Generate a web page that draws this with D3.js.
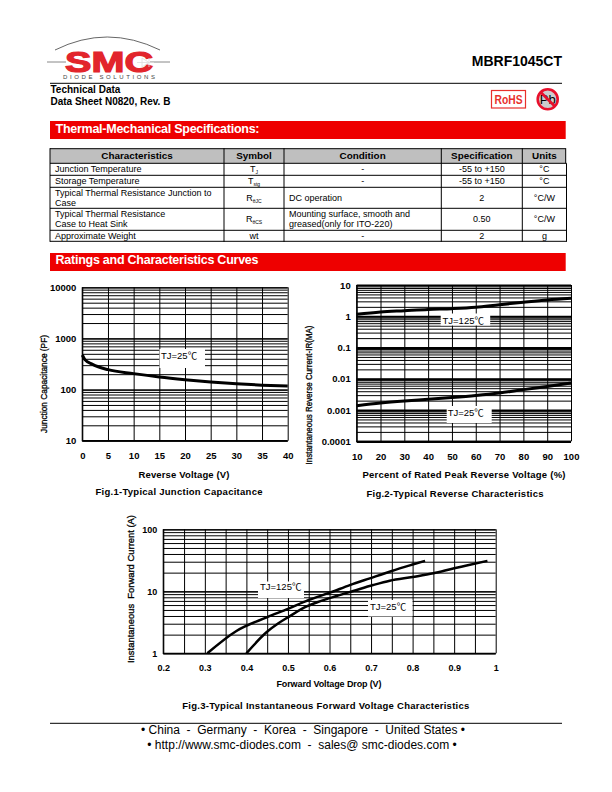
<!DOCTYPE html>
<html><head><meta charset="utf-8">
<script src="https://cdn.jsdelivr.net/npm/d3@7"></script>
<style>
html,body{margin:0;padding:0;background:#fff}
svg{display:block}
text{font-family:"Liberation Sans",Arial,"Noto Sans CJK SC",sans-serif;fill:#000;white-space:pre}
.b{font-weight:bold}
.tick text{font-family:"Liberation Sans",Arial,sans-serif;font-weight:bold;fill:#000}
</style></head><body>
<svg id="page" width="612" height="792" viewBox="0 0 612 792"></svg>
<script>
// ---- data ----
const tableHeader = ["Characteristics","Symbol","Condition","Specification","Units"];
const tableChar = [["Junction Temperature"],["Storage Temperature"],["Typical Thermal Resistance Junction to","Case"],["Typical Thermal Resistance","Case to Heat Sink"],["Approximate Weight"]];
const tableSym = [["T","J"],["T","stg"],["R","θJC"],["R","θCS"],["wt",""]];
const tableCond = [["-"],["-"],["DC operation"],["Mounting surface, smooth and","greased(only for ITO-220)"],["-"]];
const tableSpec = ["-55 to +150","-55 to +150","2","0.50","2"];
const tableUnits = ["°C","°C","°C/W","°C/W","g"];

const fig1V = [0,0.5,2,5,10,15,20,25,30,35,40];
const fig1C = [474,385,311,245,205,176,156,141,130,122,117];

const fig2Pct = [10,20,30,40,50,60,70,80,90,100];
const fig2I125 = [1.15,1.37,1.51,1.66,1.75,1.93,2.35,2.8,3.3,3.74];
const fig2I25 = [0.00138,0.00168,0.00195,0.0022,0.0025,0.0029,0.0035,0.0045,0.0057,0.0073];

const fig3V125 = [0.306,0.376,0.449,0.5,0.549,0.601,0.649,0.697,0.75,0.80,0.83];
const fig3I125 = [1,2.29,3.8,5.2,7.2,9.5,12.6,16.2,21.3,27,31];
const fig3V25 = [0.40,0.449,0.477,0.5,0.545,0.569,0.617,0.657,0.705,0.745,0.80,0.85,0.90,0.93,0.98];
const fig3I25 = [1,2.2,3.05,3.8,5.7,6.6,8.4,10.1,12.6,14.8,17,19.5,23.5,26,31];

const fig1XTicks = [0,5,10,15,20,25,30,35,40];
const fig1YTicks = [10,100,1000,10000];
const fig2XTicks = [10,20,30,40,50,60,70,80,90,100];
const fig2YTicks = [0.0001,0.001,0.01,0.1,1,10];
const fig2YLabels = ["0.0001","0.001","0.01","0.1","1","10"];
const fig3XTicks = [0.2,0.3,0.4,0.5,0.6,0.7,0.8,0.9,1];
const fig3XGrid = [0.2,0.25,0.3,0.35,0.4,0.45,0.5,0.55,0.6,0.65,0.7,0.75,0.8,0.85,0.9,0.95,1];
const fig3YTicks = [1,10,100];

// ---- helpers ----
const svg = d3.select("#page");
function txt(g,x,y,s,size,opt={}){
  const t=g.append("text").attr("x",x).attr("y",y).attr("font-size",size).text(s);
  if(opt.bold) t.attr("font-weight","bold");
  if(opt.anchor) t.attr("text-anchor",opt.anchor);
  if(opt.fill) t.style("fill",opt.fill);
  if(opt.len) t.attr("textLength",opt.len).attr("lengthAdjust",opt.adj||"spacing");
  return t;
}
function hline(x1,x2,y,w,c="#000"){svg.append("line").attr("x1",x1).attr("x2",x2).attr("y1",y).attr("y2",y).attr("stroke",c).attr("stroke-width",w);}
function vline(x,y1,y2,w,c="#000"){svg.append("line").attr("x1",x).attr("x2",x).attr("y1",y1).attr("y2",y2).attr("stroke",c).attr("stroke-width",w);}

// ---- logo ----
const logo = svg.append("g");
logo.append("path").attr("d","M55,50 Q107,24 160,50").attr("fill","none").attr("stroke","#555").attr("stroke-width",0.9);
logo.append("line").attr("x1",47).attr("x2",66).attr("y1",62).attr("y2",62).attr("stroke","#888").attr("stroke-width",1);
logo.append("line").attr("x1",150).attr("x2",170).attr("y1",62).attr("y2",62).attr("stroke","#888").attr("stroke-width",1);
txt(logo,65,71.5,"SMC",29,{bold:true,fill:"#e2252c",len:88,adj:"spacingAndGlyphs"}).style("stroke","#e2252c").style("stroke-width",1.2);
logo.append("path").attr("d","M142,58 L142,67 L149,62.5 Z M149,58 L149,67 M137,62.5 L154,62.5").attr("fill","none").attr("stroke","#ddd").attr("stroke-width",0.8);
txt(logo,63,79,"DIODE SOLUTIONS",6,{fill:"#444",len:92});

// ---- header ----
txt(svg,562,66,"MBRF1045CT",14,{bold:true,anchor:"end"});
hline(50,562,83.3,1);
txt(svg,50.5,92.5,"Technical Data",10,{bold:true});
txt(svg,50.5,104.5,"Data Sheet N0820, Rev. B",10,{bold:true});
svg.append("rect").attr("x",491.5).attr("y",90.5).attr("width",34).attr("height",17.5).attr("fill","#fff").attr("stroke","#e8302c").attr("stroke-width",1.2);
txt(svg,508.5,103.5,"RoHS",12,{bold:true,anchor:"middle",fill:"#e8302c",len:28,adj:"spacingAndGlyphs"});
svg.append("circle").attr("cx",547.7).attr("cy",99.3).attr("r",10).attr("fill","#ccc").attr("stroke","#e8102c").attr("stroke-width",2.6);
txt(svg,547.7,104,"Pb",13,{anchor:"middle"});
svg.append("line").attr("x1",540.5).attr("y1",92).attr("x2",555).attr("y2",106.5).attr("stroke","#e8102c").attr("stroke-width",2.6);

// ---- section bars ----
svg.append("rect").attr("x",50).attr("y",121).attr("width",515.7).attr("height",18).attr("fill","#ee0000");
txt(svg,55.5,132.8,"Thermal-Mechanical Specifications:",12.5,{bold:true,fill:"#fff",len:204});
svg.append("rect").attr("x",50).attr("y",253).attr("width",515.7).attr("height",18).attr("fill","#ee0000");
txt(svg,55.5,264.3,"Ratings and Characteristics Curves",12.5,{bold:true,fill:"#fff",len:203});

// ---- table ----
const colX = [50,224,284,441.3,522.3,566.5];
const rowY = [148.7,163.3,175.3,187.3,208.3,230.3,241.3];
svg.append("rect").attr("x",colX[0]).attr("y",rowY[0]).attr("width",565.7-colX[0]).attr("height",rowY[1]-rowY[0]).attr("fill","#bfbfbf");
rowY.forEach((y,i)=>hline(colX[0],i<1?565.7:colX[5],y,1));
colX.forEach((x,i)=>{ if(i<5) vline(x,rowY[0]-.5,rowY[6]+.5,1); });
vline(565.7,rowY[0]-.5,rowY[1],1);
vline(566.5,rowY[1],rowY[6]+.5,1);
tableHeader.forEach((s,i)=>txt(svg,(colX[i]+colX[i+1])/2,159.3,s,9.9,{bold:true,anchor:"middle"}));
const FS=9;
tableChar.forEach((l,r)=>{
  const two=l.length>1;
  l.forEach((s,j)=>txt(svg,55,(two?rowY[r+1]+8.7+j*10:rowY[r+1]+8.6),s,FS));
});
tableSym.forEach((s,r)=>{
  const cy=(rowY[r+1]+rowY[r+2])/2+3;
  const t=txt(svg,(colX[1]+colX[2])/2,cy,s[0],FS,{anchor:"middle"});
  if(s[1]) t.append("tspan").attr("dy",1.8).attr("font-size",5).text(s[1]);
});
tableCond.forEach((l,r)=>{
  const two=l.length>1;
  l.forEach((s,j)=>{
    if(s==="-") txt(svg,(colX[2]+colX[3])/2,rowY[r+1]+8.6,s,FS,{anchor:"middle"});
    else if(two) txt(svg,289,rowY[r+1]+8.7+j*10,s,FS);
    else txt(svg,289,(rowY[r+1]+rowY[r+2])/2+3.2,s,FS);
  });
});
tableSpec.forEach((s,r)=>txt(svg,(colX[3]+colX[4])/2,(rowY[r+1]+rowY[r+2])/2+3,s,FS,{anchor:"middle"}));
tableUnits.forEach((s,r)=>txt(svg,(colX[4]+colX[5])/2,(rowY[r+1]+rowY[r+2])/2+3,s,FS,{anchor:"middle"}));

// ---- charts ----
function minorLog(lo,hi){
  const out=[];
  for(let e=Math.round(Math.log10(lo));e<Math.round(Math.log10(hi));e++)
    for(let m=1;m<=9;m++) out.push(m*Math.pow(10,e));
  out.push(hi);
  return out;
}
function chart(o){
  const g=svg.append("g").attr("transform",`translate(${o.l},${o.t})`);
  const w=o.r-o.l,h=o.b-o.t;
  const x=d3.scaleLinear().domain(o.xd).range([0,w]);
  const y=d3.scaleLog().domain(o.yd).range([h,0]);
  g.append("g").call(d3.axisLeft(y).tickValues(minorLog(o.yd[0],o.yd[1])).tickSize(-w).tickFormat(""))
    .call(a=>{a.select(".domain").remove();a.selectAll("line").attr("stroke","#000").attr("stroke-width",o.gw||1);});
  g.append("g").call(d3.axisLeft(y).tickValues(o.yTicks).tickSize(-w).tickFormat(""))
    .call(a=>{a.select(".domain").remove();a.selectAll("line").attr("stroke","#000").attr("stroke-width",o.mw||1.3);});
  g.append("g").attr("transform",`translate(0,${h})`).call(d3.axisBottom(x).tickValues(o.xGrid).tickSize(-h).tickFormat(""))
    .call(a=>{a.select(".domain").remove();a.selectAll("line").attr("stroke","#000").attr("stroke-width",1);});
  g.append("path").attr("d",d3.line()([[0,0],[0,h],[w,h]])).attr("fill","none").attr("stroke","#000").attr("stroke-width",1.2);
  o.labels.forEach(L=>{
    g.append("rect").attr("x",L.bx-o.l).attr("y",L.by-o.t).attr("width",L.bw).attr("height",L.bh).attr("fill","#fff");
    txt(g,L.tx-o.l,L.ty-o.t,L.s,L.fs||9.5);
  });
  const ln=d3.line().x(d=>x(d[0])).y(d=>y(d[1])).curve(d3.curveMonotoneX);
  o.series.forEach(s=>{
    g.append("path").attr("d",ln(s.xs.map((v,i)=>[v,s.ys[i]]))).attr("fill","none").attr("stroke","#000").attr("stroke-width",o.sw).attr("stroke-linecap","butt");
  });
  g.append("g").attr("transform",`translate(0,${h})`)
    .call(d3.axisBottom(x).tickValues(o.xTicks).tickSize(0).tickPadding(o.xpad).tickFormat(o.xf||(d=>d)))
    .call(a=>{a.select(".domain").remove();a.selectAll("text").attr("font-size",o.tfs||9.5);});
  g.append("g")
    .call(d3.axisLeft(y).tickValues(o.yTicks).tickSize(0).tickPadding(o.ypad).tickFormat(o.yf))
    .call(a=>{a.select(".domain").remove();a.selectAll("text").attr("font-size",o.tfs||9.5);});
  txt(svg,o.xt[0],o.xt[1],o.xt[2],o.xt[3],{bold:true,anchor:"middle",len:o.xt[4]});
  txt(svg,o.cap[0],o.cap[1],o.cap[2],o.cap[3],{bold:true,anchor:"middle",len:o.cap[4]});
  const yt=txt(svg,0,0,o.yt[2],o.yt[3],{anchor:"middle",len:o.yt[4],adj:"spacingAndGlyphs",bold:o.yt[5]});
  yt.attr("transform",`translate(${o.yt[0]},${o.yt[1]}) rotate(-90)`).style("stroke","#000").style("stroke-width",o.yt[6]||0);
}

chart({l:82.3,r:287.7,t:287.3,b:440.7,xd:[0,40],yd:[10,10000],
  xGrid:fig1XTicks,xTicks:fig1XTicks,yTicks:fig1YTicks,yf:d=>d,xpad:11.5,ypad:6,sw:3,mw:1.3,
  series:[{xs:fig1V,ys:fig1C}],
  labels:[{s:"TJ=25℃",bx:159.5,by:349,bw:45.5,bh:19,tx:161,ty:359}],
  xt:[184,478,"Reverse Voltage (V)",9.5,91],cap:[179,495,"Fig.1-Typical Junction Capacitance",9.5,167],
  yt:[47,384,"Junction Capacitance (PF)",9,98,false,0.3]});

chart({l:356.7,r:571,t:285,b:441.3,xd:[10,100],yd:[0.0001,10],
  xGrid:fig2XTicks,xTicks:fig2XTicks,yTicks:fig2YTicks,yf:(d,i)=>fig2YLabels[i],xpad:12,ypad:6,sw:3,mw:2.2,
  series:[{xs:fig2Pct,ys:fig2I125},{xs:fig2Pct,ys:fig2I25}],
  labels:[{s:"TJ=125℃",bx:440.7,by:313.5,bw:49.5,bh:12,tx:442.5,ty:323.5},{s:"TJ=25℃",bx:446.7,by:406,bw:45,bh:17,tx:447.7,ty:415.5}],
  xt:[464,478,"Percent of Rated Peak Reverse Voltage (%)",9.5,203],cap:[455,497,"Fig.2-Typical Reverse Characteristics",9.5,177],
  yt:[312,395,"Instantaneous Reverse Current-IR(MA)",9,139,false,0.3]});

chart({l:163.3,r:495.7,t:529.3,b:653.3,xd:[0.2,1],yd:[1,100],
  xGrid:fig3XGrid,xTicks:fig3XTicks,yTicks:fig3YTicks,yf:d=>d,xf:d=>d,xpad:11,ypad:6,sw:2.5,mw:1.3,tfs:9,
  series:[{xs:fig3V125,ys:fig3I125},{xs:fig3V25,ys:fig3I25}],
  labels:[{s:"TJ=125℃",bx:258,by:581.5,bw:46,bh:16.5,tx:260,ty:590},{s:"TJ=25℃",bx:368,by:600,bw:44.5,bh:16.5,tx:370,ty:610}],
  xt:[329,687,"Forward Voltage Drop (V)",9,105],cap:[325.8,709,"Fig.3-Typical Instantaneous Forward Voltage Characteristics",9.5,287],
  yt:[133.5,589,"Instantaneous  Forward Current (A)",9,148,false,0.3]});

// ---- footer ----
hline(50,562,723.3,1);
txt(svg,303,734.3,"• China  -  Germany  -  Korea  -  Singapore  -  United States •",12,{anchor:"middle"});
txt(svg,302,749.3,"• http://www.smc-diodes.com  -  sales@ smc-diodes.com •",12,{anchor:"middle"});
</script>
</body></html>
